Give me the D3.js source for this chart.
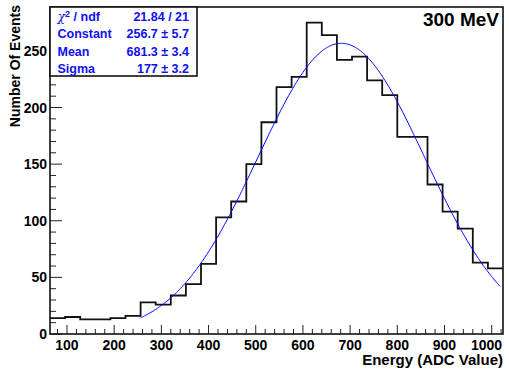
<!DOCTYPE html>
<html>
<head>
<meta charset="utf-8">
<script src="https://cdn.jsdelivr.net/npm/d3@7"></script>
<style>
  body { margin: 0; background: #fff; }
  svg { display: block; font-family: "Liberation Sans", Arial, Helvetica, sans-serif; }
</style>
</head>
<body>
<div id="chart"></div>
<script>
// histogram: 30 bins of 32 ADC counts from 64 to 1024
const binStart = 64;
const binWidth = 32;
const counts = [14, 15, 13, 13, 14, 16, 28, 26, 34, 44, 62, 103, 117, 150, 187,
                218, 227, 275, 264, 242, 245, 224, 211, 174, 174, 132, 108, 93, 63, 58];

// gaussian fit parameters (from stats box)
const fitConstant = 256.7, fitMean = 681.3, fitSigma = 177;
const fitRange = [256, 1018];

const statLabels = ["Constant", "Mean", "Sigma"];
const statValues = ["256.7 \u00b1 5.7", "681.3 \u00b1 3.4", "177 \u00b1 3.2"];
const chi2Value = "21.84 / 21";

const xTicks = [100, 200, 300, 400, 500, 600, 700, 800, 900, 1000];
const yTicks = [0, 50, 100, 150, 200, 250];

const W = 509, H = 369;
const frame = { left: 50, top: 7, right: 503, bottom: 334 };

const svg = d3.select("#chart").append("svg")
    .attr("width", W)
    .attr("height", H);

const edges = d3.range(counts.length + 1).map(i => binStart + i * binWidth);

const x = d3.scaleLinear()
    .domain([edges[0], edges[edges.length - 1]])
    .range([frame.left, frame.right]);

const y = d3.scaleLinear()
    .domain([0, d3.max(counts) * 1.05])
    .range([frame.bottom, frame.top]);

// ticks
const tickColor = "#222";
const xMinor = d3.range(80, 1024, 20);
svg.append("g").selectAll("line")
    .data(xMinor)
    .enter().append("line")
    .attr("x1", d => x(d)).attr("x2", d => x(d))
    .attr("y1", frame.bottom)
    .attr("y2", d => frame.bottom - (d % 100 === 0 ? 9 : 5))
    .attr("stroke", tickColor).attr("stroke-width", 1);

const yMinor = d3.range(0, 281, 10);
svg.append("g").selectAll("line")
    .data(yMinor)
    .enter().append("line")
    .attr("x1", frame.left)
    .attr("x2", d => frame.left + (d % 50 === 0 ? 12 : 6))
    .attr("y1", d => y(d)).attr("y2", d => y(d))
    .attr("stroke", tickColor).attr("stroke-width", 1);

// tick labels
svg.append("g").selectAll("text")
    .data(xTicks)
    .enter().append("text")
    .attr("x", d => Math.min(x(d), frame.right - 16.5))
    .attr("y", 349.5)
    .attr("text-anchor", "middle")
    .style("font-size", "14px").style("font-weight", "bold")
    .text(d => d);

svg.append("g").selectAll("text")
    .data(yTicks)
    .enter().append("text")
    .attr("x", 47)
    .attr("y", d => y(d))
    .attr("dy", "0.36em")
    .attr("text-anchor", "end")
    .style("font-size", "14px").style("font-weight", "bold")
    .text(d => d);

// histogram outline
const stepPts = [];
counts.forEach((c, i) => {
    stepPts.push([x(edges[i]), y(c)]);
    stepPts.push([x(edges[i + 1]), y(c)]);
});
svg.append("path")
    .attr("d", d3.line()(stepPts))
    .attr("fill", "none")
    .attr("stroke", "#111")
    .attr("stroke-width", 1.8);

// fit curve
const gaus = v => fitConstant * Math.exp(-0.5 * Math.pow((v - fitMean) / fitSigma, 2));
const fitX = d3.range(fitRange[0], fitRange[1] + 0.1, 2);
svg.append("path")
    .attr("d", d3.line().x(d => x(d)).y(d => y(gaus(d)))(fitX))
    .attr("fill", "none")
    .attr("stroke", "#0000ff")
    .attr("stroke-width", 1);

// frame
svg.append("rect")
    .attr("x", frame.left).attr("y", frame.top)
    .attr("width", frame.right - frame.left)
    .attr("height", frame.bottom - frame.top)
    .attr("fill", "none")
    .attr("stroke", "#111")
    .attr("stroke-width", 1.6);

// stats box
const box = svg.append("g");
box.append("rect")
    .attr("x", frame.left).attr("y", frame.top)
    .attr("width", 147).attr("height", 69)
    .attr("fill", "#fff")
    .attr("stroke", "#111")
    .attr("stroke-width", 1.6);

const rowY = [21, 38.3, 55.6, 72.5];
const blue = "#1010ee";

const chi = box.append("text")
    .attr("x", 57.5).attr("y", rowY[0])
    .attr("fill", blue)
    .style("font-size", "12.5px");
chi.append("tspan").style("font-family", "'DejaVu Serif', serif").style("font-style", "italic").text("\u03c7");
chi.append("tspan").attr("dy", -4).style("font-size", "9px").style("font-weight", "bold").text("2");
chi.append("tspan").attr("dy", 4).style("font-weight", "bold").text(" / ndf");

box.selectAll("text.lab")
    .data(statLabels)
    .enter().append("text")
    .attr("class", "lab")
    .attr("x", 57.5)
    .attr("y", (d, i) => rowY[i + 1])
    .attr("fill", blue)
    .style("font-size", "12.5px").style("font-weight", "bold")
    .text(d => d);

box.selectAll("text.val")
    .data([chi2Value].concat(statValues))
    .enter().append("text")
    .attr("class", "val")
    .attr("x", 189)
    .attr("y", (d, i) => rowY[i])
    .attr("text-anchor", "end")
    .attr("fill", blue)
    .style("font-size", "12.5px").style("font-weight", "bold")
    .text(d => d);

// titles
svg.append("text")
    .attr("x", 499).attr("y", 26)
    .attr("text-anchor", "end")
    .style("font-size", "19px").style("font-weight", "bold")
    .text("300 MeV");

svg.append("text")
    .attr("x", frame.right).attr("y", 365)
    .attr("text-anchor", "end")
    .style("font-size", "15px").style("font-weight", "bold")
    .text("Energy (ADC Value)");

svg.append("text")
    .attr("transform", "translate(20,5) rotate(-90)")
    .attr("text-anchor", "end")
    .style("font-size", "14px").style("font-weight", "bold")
    .text("Number Of Events");
</script>
</body>
</html>
